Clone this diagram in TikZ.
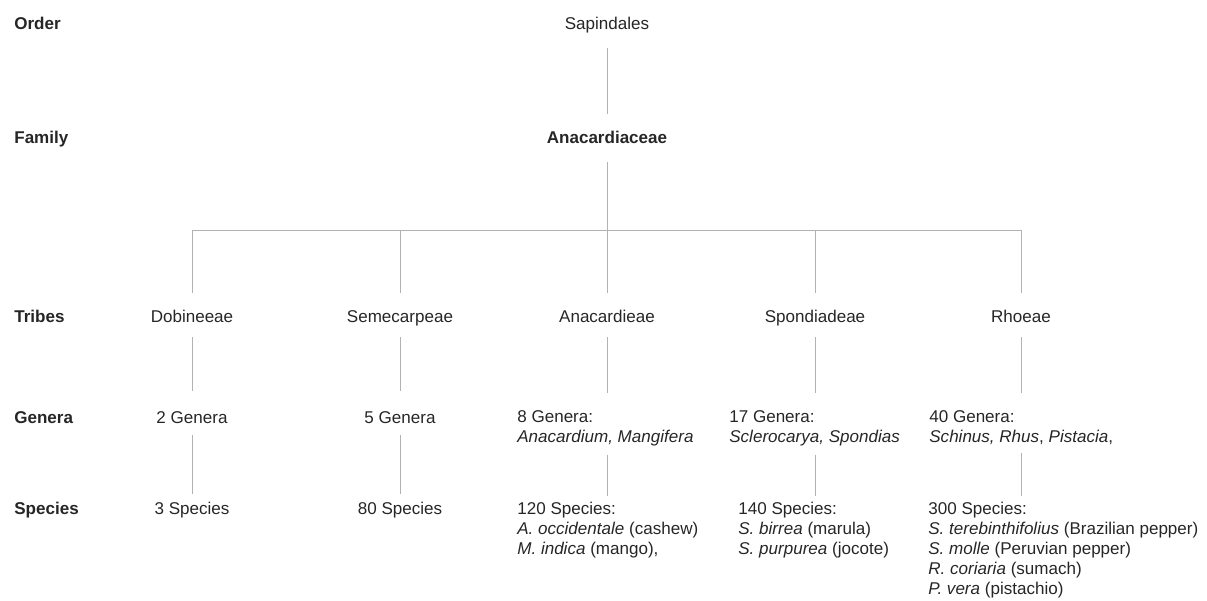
\documentclass[tikz,border=0pt]{standalone}
\usepackage{fontspec}
\setmainfont{Liberation Sans}
\begin{document}
\begin{tikzpicture}[x=0.02cm, y=-0.02cm, font=\fontsize{9.7pt}{11.4pt}\selectfont, color=black!85,
  level/.style={anchor=base west, inner sep=0pt, font=\fontsize{9.7pt}{11.4pt}\selectfont\bfseries},
  taxon/.style={anchor=base, inner sep=0pt, text height=0.75em, text depth=0.25em},
  list/.style={anchor=north west, inner sep=0pt, align=left},
  link/.style={draw=black!30, line width=0.5pt}]
\useasboundingbox (0,0) rectangle (1207,601);
\node[level] (L1) at (14,30) {Order};
\node[level] (L2) at (14,144) {Family};
\node[level] (L3) at (14,322) {Tribes};
\node[level] (L4) at (14,423) {Genera};
\node[level] (L5) at (14,514) {Species};
\node[taxon] (sap) at (607,30) {Sapindales};
\node[taxon, font=\fontsize{9.7pt}{11.4pt}\selectfont\bfseries] (ana) at (607,144) {Anacardiaceae};
\coordinate (fork) at (607,230);
\node[taxon] (t1) at (192,322) {Dobineeae};
\node[taxon] (t2) at (400,322) {Semecarpeae};
\node[taxon] (t3) at (607,322) {Anacardieae};
\node[taxon] (t4) at (815,322) {Spondiadeae};
\node[taxon] (t5) at (1021,322) {Rhoeae};
\node[taxon] (g1) at (192,423) {2 Genera};
\node[taxon] (g2) at (400,423) {5 Genera};
\node[list] (g3) at (517,410.7) {8 Genera:\\\textit{Anacardium, Mangifera}};
\node[list] (g4) at (729,410.7) {17 Genera:\\\textit{Sclerocarya, Spondias}};
\node[list] (g5) at (929,410.7) {40 Genera:\\\textit{Schinus, Rhus}, \textit{Pistacia},};
\node[taxon] (s1) at (192,514) {3 Species};
\node[taxon] (s2) at (400,514) {80 Species};
\node[list] (s3) at (517,501.7) {120 Species:\\\textit{A. occidentale} (cashew)\\\textit{M. indica} (mango),};
\node[list] (s4) at (738,501.7) {140 Species:\\\textit{S. birrea} (marula)\\\textit{S. purpurea} (jocote)};
\node[list] (s5) at (928,501.7) {300 Species:\\\textit{S. terebinthifolius} (Brazilian pepper)\\\textit{S. molle} (Peruvian pepper)\\\textit{R. coriaria} (sumach)\\\textit{P. vera} (pistachio)};
% order and family
\path [link, shorten <=7.8pt, shorten >=9.2pt] (sap) edge (ana);
\path [link, shorten <=7.8pt] (ana) edge (fork);
\path [link] (t1 |- fork) edge (t5 |- fork);
% tribes
\path [link, shorten >=8.6pt] (t1 |- fork) edge (t1);
\path [link, shorten >=8.6pt] (t2 |- fork) edge (t2);
\path [link, shorten >=8.6pt] (t3 |- fork) edge (t3);
\path [link, shorten >=8.6pt] (t4 |- fork) edge (t4);
\path [link, shorten >=8.6pt] (t5 |- fork) edge (t5);
% genera
\path [link, shorten <=6.1pt, shorten >=10.3pt] (t1) edge (t1 |- g1.north);
\path [link, shorten <=6.1pt, shorten >=10.3pt] (t2) edge (t2 |- g2.north);
\path [link, shorten <=6.1pt, shorten >=10.3pt] (t3) edge (t3 |- g3.north);
\path [link, shorten <=6.1pt, shorten >=10.3pt] (t4) edge (t4 |- g4.north);
\path [link, shorten <=6.1pt, shorten >=10.3pt] (t5) edge (t5 |- g5.north);
% species
\path [link, shorten <=4.4pt, shorten >=3.5pt] (t1 |- g1.south) edge (t1 |- s1.north);
\path [link, shorten <=4.4pt, shorten >=3.5pt] (t2 |- g2.south) edge (t2 |- s2.north);
\path [link, shorten <=4.4pt, shorten >=3.5pt] (t3 |- g3.south) edge (t3 |- s3.north);
\path [link, shorten <=4.4pt, shorten >=3.5pt] (t4 |- g4.south) edge (t4 |- s4.north);
\path [link, shorten <=4.4pt, shorten >=3.5pt] (t5 |- g5.south) edge (t5 |- s5.north);
\end{tikzpicture}
\end{document}
